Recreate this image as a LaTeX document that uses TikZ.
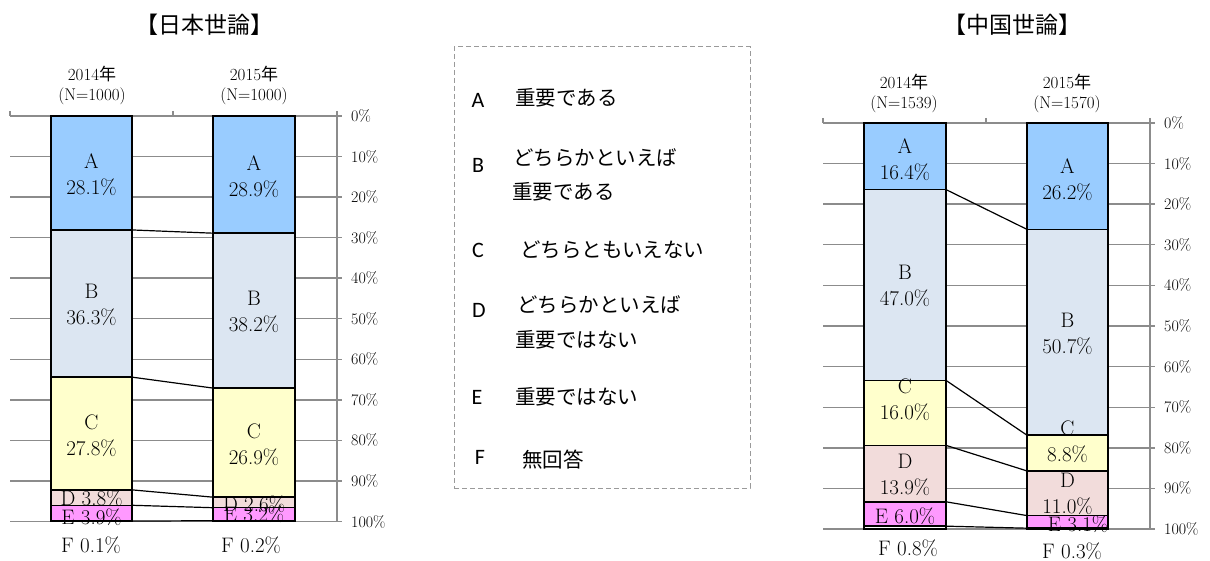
\documentclass[tikz,border=0pt]{standalone}
\usepackage{fontspec}
\newfontfamily\jp{Noto Sans CJK JP}
\newfontfamily\lf{Carlito}
\definecolor{cA}{HTML}{99CCFF}
\definecolor{cB}{HTML}{DCE6F2}
\definecolor{cC}{HTML}{FFFFCC}
\definecolor{cD}{HTML}{F2DCDB}
\definecolor{cE}{HTML}{FF99FF}
\definecolor{gridc}{HTML}{8C8C8C}
\definecolor{legc}{HTML}{9A9A9A}
\tikzset{
  gridl/.style={draw=gridc, line width=1.4pt},
  segline/.style={draw=black, line width=1.5pt},
  conn/.style={draw=black, line width=1.2pt},
  barlbl/.style={font=\fontsize{21}{26}\selectfont, align=center, inner sep=0pt},
  axlbl/.style={font=\fontsize{16}{19}\selectfont, anchor=west, inner sep=0pt},
  hdr/.style={font=\fontsize{17}{20}\selectfont, align=center, inner sep=0pt},
  ttl/.style={font=\jp\fontsize{23}{28}\selectfont, inner sep=0pt},
  legl/.style={font=\lf\fontsize{22}{26}\selectfont, inner sep=0pt},
  legt/.style={font=\jp\fontsize{20.5}{24}\selectfont, anchor=west, inner sep=0pt},
  legbox/.style={draw=legc, line width=1pt, dash pattern=on 5pt off 3pt, inner sep=0pt},
}
% grid: #1 name, #2 x-left, #3 x-mid, #4 x-axis, #5 y0, #6 step(10%), #7 label x
\newcommand\chartgrid[7]{%
  \foreach \gk in {0,...,10} {
    \draw[gridl] (#2,{#5+#6*\gk}) -- ({#4+5},{#5+#6*\gk});
    \pgfmathtruncatemacro\pv{10*\gk}
    \node[axlbl] (#1ax\gk) at (#7,{#5+#6*\gk}) {\pv\%};
  }
  \draw[gridl] (#2,{#5-5}) -- (#2,#5);
  \draw[gridl] (#3,{#5-5}) -- (#3,#5);
  \draw[gridl] (#4,{#5-5}) -- (#4,{#5+10*#6});
}
% bar fills: #1 id, #2 x1, #3 x2, #4 y0, #5 scale per %, #6 list macro
\newcommand\barfill[6]{%
  \foreach \st/\sb/\sc [count=\si] in #6 {
    \fill[\sc] (#2,{#4+#5*\st}) rectangle (#3,{#4+#5*\sb});
    \coordinate (#1L\si) at (#2,{#4+#5*\sb});
    \coordinate (#1R\si) at (#3,{#4+#5*\sb});
  }
}
\newcommand\barline[6]{%
  \foreach \st/\sb/\sc in #6 {
    \draw[segline] (#2,{#4+#5*\st}) rectangle (#3,{#4+#5*\sb});
  }
}
\def\JA{0/28.1/cA, 28.1/64.4/cB, 64.4/92.2/cC, 92.2/96.0/cD, 96.0/99.9/cE, 99.9/100/white}
\def\JB{0/28.9/cA, 28.9/67.1/cB, 67.1/94.0/cC, 94.0/96.6/cD, 96.6/99.8/cE, 99.8/100/white}
\def\CA{0/16.4/cA, 16.4/63.4/cB, 63.4/79.4/cC, 79.4/93.3/cD, 93.3/99.3/cE, 99.3/100/white}
\def\CB{0/26.2/cA, 26.2/76.9/cB, 76.9/85.7/cC, 85.7/96.7/cD, 96.7/99.8/cE, 99.8/100/white}
\begin{document}
\begin{tikzpicture}[x=1pt,y=-1pt]
\useasboundingbox (0,0) rectangle (1210,561);
\fill[white] (0,0) rectangle (1210,561);

% titles
\node[ttl] (ttlj) at (204,25) {【日本世論】};
\node[ttl] (ttlc) at (1012,25) {【中国世論】};

% grids
\chartgrid{j}{10}{173}{337}{116}{40.55}{351}
\chartgrid{c}{823}{986}{1150}{123}{40.6}{1164}

% bar fills
\barfill{ja}{51}{132}{116}{4.055}{\JA}
\barfill{jb}{213}{295}{116}{4.055}{\JB}
\barfill{ca}{864}{946}{123}{4.06}{\CA}
\barfill{cb}{1027}{1108}{123}{4.06}{\CB}

% bar labels (Japan)
\node[barlbl] (jaA) at (91.5,175) {A\\28.1\%};
\node[barlbl] (jaB) at (91.5,305) {B\\36.3\%};
\node[barlbl] (jaC) at (91.5,436) {C\\27.8\%};
\node[barlbl] (jaD) at (91.5,498) {D 3.8\%};
\node[barlbl] (jaE) at (91.5,517) {E 3.9\%};
\node[barlbl] (jbA) at (254,177) {A\\28.9\%};
\node[barlbl] (jbB) at (254,312) {B\\38.2\%};
\node[barlbl] (jbC) at (254,445) {C\\26.9\%};
\node[barlbl] (jbD) at (254,504) {D 2.6\%};
\node[barlbl] (jbE) at (254,514) {E 3.2\%};
% bar labels (China)
\node[barlbl] (caA) at (905,160) {A\\16.4\%};
\node[barlbl] (caB) at (905,286) {B\\47.0\%};
\node[barlbl] (caC) at (905,400) {C\\16.0\%};
\node[barlbl] (caD) at (905,475) {D\\13.9\%};
\node[barlbl] (caE) at (905,516) {E 6.0\%};
\node[barlbl] (cbA) at (1067.5,180) {A\\26.2\%};
\node[barlbl] (cbB) at (1067.5,334) {B\\50.7\%};
\node[barlbl] (cbC) at (1067.5,442) {C\\8.8\%};
\node[barlbl] (cbD) at (1067.5,494) {D\\11.0\%};
\node[barlbl] (cbE) at (1078,524) {E 3.1\%};

% bar borders
\barline{ja}{51}{132}{116}{4.055}{\JA}
\barline{jb}{213}{295}{116}{4.055}{\JB}
\barline{ca}{864}{946}{123}{4.06}{\CA}
\barline{cb}{1027}{1108}{123}{4.06}{\CB}

% connectors
\foreach \k in {1,...,5} {
  \draw[conn] (jaR\k) -- (jbL\k);
  \draw[conn] (caR\k) -- (cbL\k);
}

% F labels
\node[barlbl] (jaF) at (91,545) {F 0.1\%};
\node[barlbl] (jbF) at (251,545) {F 0.2\%};
\node[barlbl] (caF) at (908,548) {F 0.8\%};
\node[barlbl] (cbF) at (1072,551.5) {F 0.3\%};

% headers
\node[hdr] (jh1) at (92,85) {2014{\jp 年}\\(N=1000)};
\node[hdr] (jh2) at (254,85) {2015{\jp 年}\\(N=1000)};
\node[hdr] (ch1) at (904,93) {2014{\jp 年}\\(N=1539)};
\node[hdr] (ch2) at (1067,93) {2015{\jp 年}\\(N=1570)};

% legend
\node[legbox, minimum width=296pt, minimum height=441pt] (legend) at (602,267.5) {};
\node[legl] (lA) at (478,100) {A};
\node[legt] (tA) at (515,98) {重要である};
\node[legl] (lB) at (478,165) {B};
\node[legt] (tB1) at (513,158) {どちらかといえば};
\node[legt] (tB2) at (512,192) {重要である};
\node[legl] (lC) at (478,250) {C};
\node[legt] (tC) at (520,250) {どちらともいえない};
\node[legl] (lD) at (479,310) {D};
\node[legt] (tD1) at (517,305) {どちらかといえば};
\node[legt] (tD2) at (515,340) {重要ではない};
\node[legl] (lE) at (477,397) {E};
\node[legt] (tE) at (515,397) {重要ではない};
\node[legl] (lF) at (480,457) {F};
\node[legt] (tF) at (522,460) {無回答};
\end{tikzpicture}
\end{document}
